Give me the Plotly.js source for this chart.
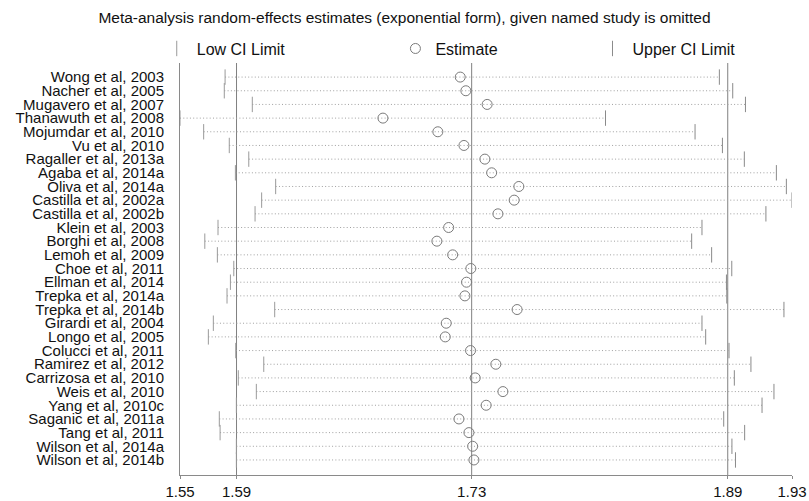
<!DOCTYPE html>
<html>
<head>
<meta charset="utf-8">
<script src="https://cdn.plot.ly/plotly-3.0.1.min.js"></script>
<style>html,body{margin:0;padding:0;background:#fff;}#chart{width:809px;height:501px;}</style>
</head>
<body>
<div id="chart"></div>
<script>
const studies = [
  "Wong et al, 2003","Nacher et al, 2005","Mugavero et al, 2007","Thanawuth et al, 2008",
  "Mojumdar et al, 2010","Vu et al, 2010","Ragaller et al, 2013a","Agaba et al, 2014a",
  "Oliva et al, 2014a","Castilla et al, 2002a","Castilla et al, 2002b","Klein et al, 2003",
  "Borghi et al, 2008","Lemoh et al, 2009","Choe et al, 2011","Ellman et al, 2014",
  "Trepka et al, 2014a","Trepka et al, 2014b","Girardi et al, 2004","Longo et al, 2005",
  "Colucci et al, 2011","Ramirez et al, 2012","Carrizosa et al, 2010","Weis et al, 2010",
  "Yang et al, 2010c","Saganic et al, 2011a","Tang et al, 2011","Wilson et al, 2014a",
  "Wilson et al, 2014b"
];
const lowCI = [
  1.5789,1.5784,1.5958,1.5509,1.5656,1.5815,1.5936,1.5853,1.6103,1.6016,1.5975,1.5745,
  1.5663,1.5741,1.5843,1.5822,1.5801,1.6097,1.5716,1.5685,1.5855,1.6029,1.5871,1.5983,
  1.5859,1.5753,1.5758,1.5859,1.5859
];
const estimate = [
  1.7249,1.7284,1.7416,1.6769,1.7110,1.7272,1.7402,1.7444,1.7613,1.7584,1.7483,1.7177,
  1.7104,1.7202,1.7315,1.7288,1.7278,1.7602,1.7162,1.7156,1.7313,1.7470,1.7342,1.7514,
  1.7410,1.7241,1.7303,1.7326,1.7334
];
const upperCI = [
  1.8858,1.8941,1.9020,1.8151,1.8707,1.8877,1.9013,1.9212,1.9274,1.9309,1.9147,1.8750,
  1.8686,1.8810,1.8935,1.8902,1.8904,1.9259,1.8750,1.8773,1.8918,1.9054,1.8951,1.9197,
  1.9123,1.8885,1.9015,1.8936,1.8958
];
const overallLow = 1.586;
const overallEstimate = 1.732;
const overallUpper = 1.891;

const xMin = Math.min(...lowCI);
const xMax = Math.max(...upperCI);
const tickVals = [xMin, overallLow, overallEstimate, overallUpper, xMax];
const tickText = tickVals.map(v => v.toFixed(2));

const FONT = "Liberation Sans, Arial, sans-serif";

// dotted connecting lines
const lx = [], ly = [];
studies.forEach((s, i) => { lx.push(lowCI[i], upperCI[i], null); ly.push(s, s, null); });

const traces = [
  {x: lx, y: ly, type: 'scatter', mode: 'lines', showlegend: false, hoverinfo: 'skip',
   line: {color: '#a0a0a0', width: 1, dash: '1px,2.3px'}},
  {x: lowCI, y: studies, type: 'scatter', mode: 'markers', name: 'Low CI Limit',
   marker: {symbol: 'line-ns', size: 11, line: {color: '#9a9a9a', width: 1}}, legend: 'legend'},
  {x: estimate, y: studies, type: 'scatter', mode: 'markers', name: 'Estimate',
   marker: {symbol: 'circle-open', size: 10, color: '#7a7a7a', line: {color: '#7a7a7a', width: 1}}, legend: 'legend2'},
  {x: upperCI, y: studies, type: 'scatter', mode: 'markers', name: 'Upper CI Limit',
   marker: {symbol: 'line-ns', size: 11, line: {color: '#8a8a8a', width: 1}}, legend: 'legend3'}
];

const refLine = v => ({type: 'line', xref: 'x', yref: 'paper', x0: v, x1: v, y0: 0, y1: 1,
  line: {color: '#808080', width: 1}, layer: 'below'});

const legendBase = {orientation: 'h', yanchor: 'middle', xanchor: 'left', y: 1.035,
  font: {family: FONT, size: 16, color: '#111'}, bgcolor: 'rgba(0,0,0,0)', itemwidth: 30};

const layout = {
  width: 809, height: 501,
  paper_bgcolor: '#ffffff', plot_bgcolor: '#ffffff',
  margin: {l: 180, r: 17, t: 63, b: 26},
  title: {text: 'Meta-analysis random-effects estimates (exponential form), given named study is omitted',
    x: 0.5, xref: 'container', xanchor: 'center', y: 0.964, yref: 'container', yanchor: 'middle',
    font: {family: FONT, size: 15.5, color: '#111'}},
  xaxis: {range: [xMin, xMax], tickmode: 'array', tickvals: tickVals, ticktext: tickText,
    showgrid: false, zeroline: false, showline: true, linecolor: '#8a8a8a', linewidth: 1,
    ticks: 'outside', ticklen: 3, tickcolor: '#8a8a8a',
    tickfont: {family: FONT, size: 15, color: '#111'}},
  yaxis: {type: 'category', categoryorder: 'array', categoryarray: studies,
    tickmode: 'array', tickvals: studies, ticktext: studies,
    range: [studies.length - 1 + 1.1, -1.03],
    showgrid: false, zeroline: false, showline: true, linecolor: '#8a8a8a', linewidth: 1,
    ticks: '', ticklabelstandoff: 12,
    tickfont: {family: FONT, size: 15, color: '#111'}},
  shapes: [refLine(overallLow), refLine(overallEstimate), refLine(overallUpper)],
  legend: Object.assign({}, legendBase, {x: -0.038}),
  legend2: Object.assign({}, legendBase, {x: 0.352}),
  legend3: Object.assign({}, legendBase, {x: 0.674}),
  hovermode: false
};

Plotly.newPlot('chart', traces, layout, {displayModeBar: false, staticPlot: true});
</script>
</body>
</html>
